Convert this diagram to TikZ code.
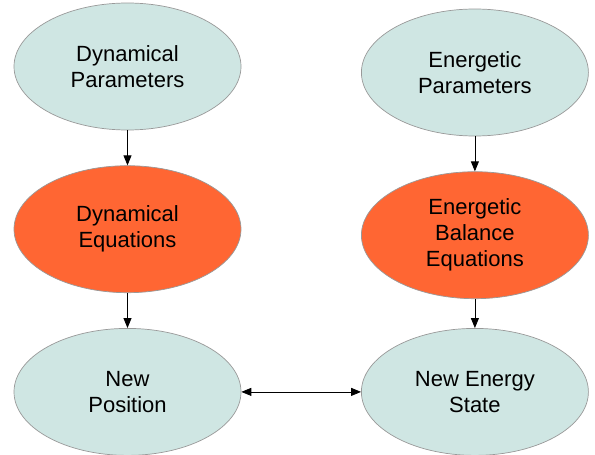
\documentclass[tikz,border=0pt]{standalone}
\usepackage{fontspec}
\setmainfont{Liberation Sans}
\usetikzlibrary{shapes.geometric,arrows.meta,positioning}
\definecolor{paleblue}{HTML}{CFE6E3}
\definecolor{hotorange}{HTML}{FF6633}

\begin{document}
\begin{tikzpicture}[
		node distance=35pt and 119.7pt,
		blob/.style={ellipse, draw=gray!80, line width=0.7pt, fill=#1, minimum width=227pt,
			minimum height=127pt, inner sep=0pt, align=center,
			font=\fontsize{22}{26}\selectfont},
		arr/.style={-{Triangle[length=10pt,width=8pt]}, line width=0.8pt}
		]
		\useasboundingbox (0pt,0pt) rectangle (595pt,-455pt);
		\node[blob=paleblue]   (dynpar) at (127.5pt,-66.5pt) {Dynamical \\ Parameters};
		\node[blob=hotorange, below=of dynpar] (dyneq)  {Dynamical \\ Equations};
		\node[blob=paleblue,  below=of dyneq]  (newpos) {New \\ Position};
		\node[blob=paleblue,  right=of newpos] (newen)  {New Energy \\ State};
		\node[blob=hotorange, above=29pt of newen] (eneq) {Energetic \\ Balance \\ Equations};
		\node[blob=paleblue,  above=of eneq]   (enpar)  {Energetic \\ Parameters};
		
		\draw[arr] (dynpar) -- (dyneq);
		\draw[arr] (dyneq)  -- (newpos);
		\draw[arr] (enpar)  -- (eneq);
		\draw[arr] (eneq)   -- (newen);
		\draw[arr, {Triangle[length=10pt,width=8pt]}-{Triangle[length=10pt,width=8pt]}] (newpos) -- (newen);
	\end{tikzpicture}
\end{document}
